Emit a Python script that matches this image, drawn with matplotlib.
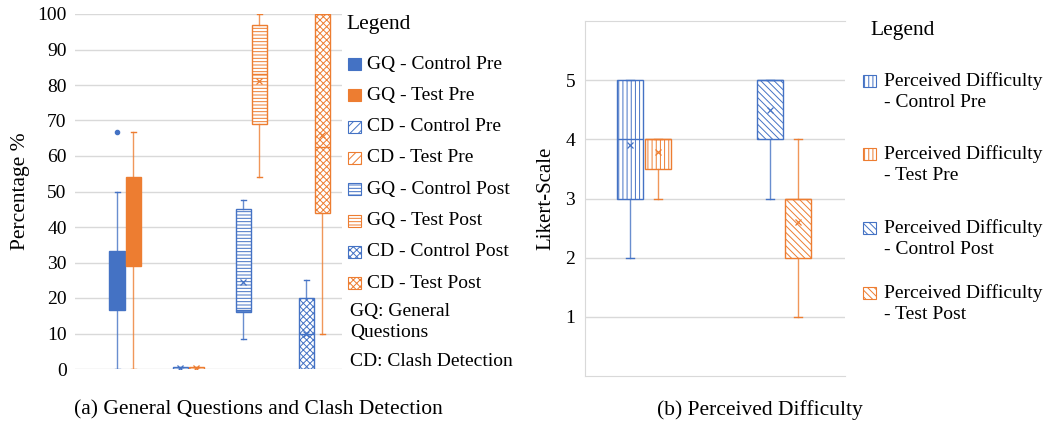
import matplotlib.pyplot as plt
from matplotlib.patches import Rectangle

plt.rcParams['font.family'] = ['Liberation Serif', 'DejaVu Serif']
plt.rcParams['hatch.linewidth'] = 0.7

BLUE = '#4472C4'
ORANGE = '#ED7D31'
GRID = '#d9d9d9'

# (a) General Questions and Clash Detection
left_names = ["GQ - Control Pre", "GQ - Test Pre", "CD - Control Pre", "CD - Test Pre",
              "GQ - Control Post", "GQ - Test Post", "CD - Control Post", "CD - Test Post"]
left_whislo = [0, 0, 0, 0, 8.5, 54, 0, 10]
left_q1 = [16.5, 29, 0, 0, 16, 69, 0, 44]
left_med = [25, 41.5, 0, 0, 16.5, 83, 10, 62.5]
left_q3 = [33.3, 54, 0.5, 0.5, 45, 97, 20, 100]
left_whishi = [50, 66.7, 0.5, 0.5, 47.5, 100, 25, 100]
left_mean = [26, 41, 0.2, 0.2, 24.5, 81, 10, 66]
left_fliers = [[66.7], [], [], [], [], [], [], []]
left_hatch = ['', '', '////', '////', '-----', '-----', 'xxxxx', 'xxxxx']
left_notes = ["GQ: General\nQuestions", "CD: Clash Detection"]

# (b) Perceived Difficulty
pd_names = ["Perceived Difficulty\n- Control Pre", "Perceived Difficulty\n- Test Pre",
            "Perceived Difficulty\n- Control Post", "Perceived Difficulty\n- Test Post"]
pd_whislo = [2, 3, 3, 1]
pd_q1 = [3, 3.5, 4, 2]
pd_med = [4, 4, 5, 3]
pd_q3 = [5, 4, 5, 3]
pd_whishi = [5, 4, 5, 4]
pd_mean = [3.9, 3.78, 4.5, 2.6]
pd_hatch = ['||||', '||||', '\\\\\\\\\\', '\\\\\\\\\\']

W, H = 1049, 425
fig = plt.figure(figsize=(W / 100, H / 100), dpi=100)


def fx(px):
    return px / W


def fy(py):
    return 1 - py / H


def draw_box(ax, pos, width, capw, stats, color, hatch):
    solid = hatch == ''
    res = ax.bxp([stats], positions=[pos], widths=width, capwidths=capw,
                 patch_artist=True, showmeans=True, showfliers=True,
                 boxprops=dict(facecolor=color if solid else 'white', edgecolor=color,
                               hatch=hatch, linewidth=1.0),
                 medianprops=dict(color=color, linewidth=1.0),
                 whiskerprops=dict(color=color, linewidth=1.0, alpha=0.8),
                 capprops=dict(color=color, linewidth=1.0),
                 meanprops=dict(marker='x', markersize=4, markeredgecolor=color,
                                markerfacecolor=color, markeredgewidth=0.9),
                 flierprops=dict(marker='o', markersize=3, markerfacecolor=color,
                                 markeredgecolor=color))
    # the dense cross pattern looks paler in the original
    if 'x' in hatch and hasattr(res['boxes'][0], 'set_hatchcolor'):
        res['boxes'][0].set_hatchcolor((*plt.matplotlib.colors.to_rgb(color), 0.6))


def legend_item(x_patch, y_center, text, color, hatch, x_text, y_text):
    solid = hatch == ''
    fig.add_artist(Rectangle((fx(x_patch), fy(y_center + 6)), fx(13), 12 / H,
                             transform=fig.transFigure,
                             facecolor=color if solid else 'white',
                             edgecolor=color, hatch=hatch, linewidth=0.8))
    fig.text(fx(x_text), fy(y_text), text, fontsize=14, ha='left', va='center',
             linespacing=1.3)


# ---------- panel (a) ----------
ax1 = fig.add_axes([fx(75), 56 / H, fx(267), 355 / H])
colors = [BLUE, ORANGE] * 4
for i in range(len(left_names)):
    grp = i // 2 + 1
    pos = grp + (-0.127 if i % 2 == 0 else 0.127)
    st = dict(whislo=left_whislo[i], q1=left_q1[i], med=left_med[i], q3=left_q3[i],
              whishi=left_whishi[i], mean=left_mean[i], fliers=left_fliers[i])
    draw_box(ax1, pos, 0.24, 0.08, st, colors[i], left_hatch[i])

ax1.set_xlim(0.206, 4.44)
ax1.set_ylim(0, 100)
ax1.set_yticks(range(0, 101, 10))
ax1.set_xticks([])
ax1.yaxis.grid(True, color=GRID, linewidth=1.0)
ax1.set_axisbelow(True)
for s in ax1.spines.values():
    s.set_visible(False)
ax1.tick_params(axis='y', length=0, labelsize=14, pad=6)
ax1.set_ylabel('Percentage %', fontsize=15.5, labelpad=5)

fig.text(fx(346), fy(25), 'Legend', fontsize=15.5, ha='left', va='center')
for i, name in enumerate(left_names):
    yc = 64 + i * 31.3
    legend_item(348, yc, name, colors[i], left_hatch[i], 367, yc)
fig.text(fx(350), fy(322), left_notes[0], fontsize=14, ha='left', va='center',
         linespacing=1.3)
fig.text(fx(350), fy(361), left_notes[1], fontsize=14, ha='left', va='center')

# ---------- panel (b) ----------
ax2 = fig.add_axes([fx(585), 49 / H, fx(260), 355 / H])
pd_colors = [BLUE, ORANGE, BLUE, ORANGE]
for i in range(len(pd_names)):
    grp = i // 2 + 1
    pos = grp + (-0.1 if i % 2 == 0 else 0.1)
    st = dict(whislo=pd_whislo[i], q1=pd_q1[i], med=pd_med[i], q3=pd_q3[i],
              whishi=pd_whishi[i], mean=pd_mean[i], fliers=[])
    draw_box(ax2, pos, 0.186, 0.057, st, pd_colors[i], pd_hatch[i])

ax2.set_xlim(0.579, 2.436)
ax2.set_ylim(0, 6)
ax2.set_yticks([1, 2, 3, 4, 5])
ax2.set_xticks([])
ax2.yaxis.grid(True, color=GRID, linewidth=1.0)
ax2.set_axisbelow(True)
for side in ['left', 'top', 'bottom']:
    ax2.spines[side].set_color(GRID)
ax2.spines['right'].set_visible(False)
ax2.tick_params(axis='y', length=0, labelsize=14, pad=7)
ax2.set_ylabel('Likert-Scale', fontsize=15, labelpad=7)

fig.text(fx(870), fy(30), 'Legend', fontsize=15.5, ha='left', va='center')
pd_rows = [81, 154, 228, 293]
for i, name in enumerate(pd_names):
    legend_item(863, pd_rows[i], name, pd_colors[i], pd_hatch[i], 884, pd_rows[i] + 11)

# captions
fig.text(fx(258), fy(410), '(a) General Questions and Clash Detection', fontsize=15.5,
         ha='center', va='center')
fig.text(fx(760), fy(410), '(b) Perceived Difficulty', fontsize=15.5,
         ha='center', va='center')

fig.savefig('out.png', dpi=100)
